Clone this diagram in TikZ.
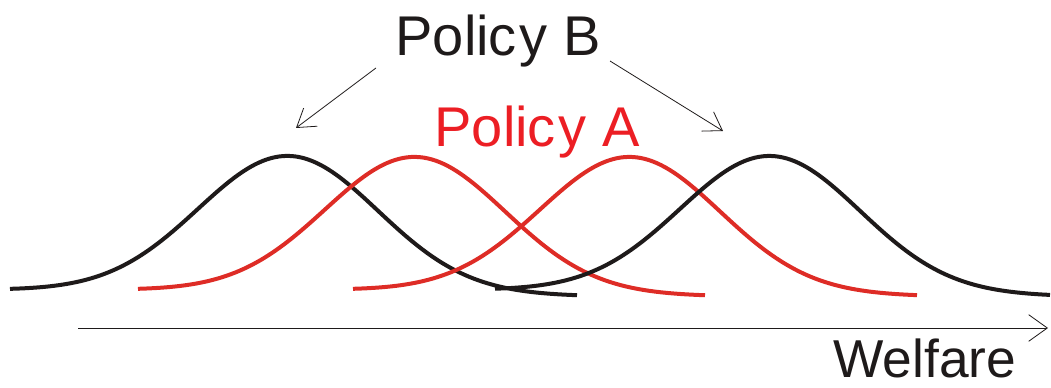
\documentclass[tikz,border=0pt]{standalone}
\usepackage{fontspec}
\setmainfont{Liberation Sans}
\usetikzlibrary{arrows.meta}
\definecolor{ink}{RGB}{30,26,26}
\definecolor{redtext}{RGB}{236,30,36}
\definecolor{redcurve}{RGB}{222,44,38}
\tikzset{
  curve/.style={line width=3pt, line join=round},
  pointer/.style={line width=0.6pt, ink, -{Straight Barb[length=13pt,width=17pt,line width=0.6pt]}},
  axisline/.style={line width=0.6pt, ink, -{Straight Barb[length=14pt,width=20pt,line width=0.6pt]}},
  label/.style={anchor=base, inner sep=0pt, font=\fontsize{42}{42}\selectfont},
}
\begin{document}
\begin{tikzpicture}[x=0.75pt,y=-0.75pt]
\useasboundingbox (0,0) rectangle (1051,388);
% curves
\draw[curve, ink] plot[domain=10:577, samples=140]
  (\x, {290+6*(\x-10)/567 - 137*exp(-0.5*((\x-288)/90)^2)});
\draw[curve, redcurve] plot[domain=138:705, samples=140]
  (\x, {290+6*(\x-138)/567 - 136*exp(-0.5*((\x-415)/90)^2)});
\draw[curve, redcurve] plot[domain=353:917, samples=140]
  (\x, {290+6*(\x-353)/564 - 136*exp(-0.5*((\x-630)/90)^2)});
\draw[curve, ink] plot[domain=495:1050, samples=140]
  (\x, {290+6*(\x-495)/555 - 137*exp(-0.5*((\x-770)/90)^2)});
% axis
\coordinate (axL) at (78,328);
\coordinate (axR) at (1048,328);
\draw[axisline] (axL) -- (axR);
\node[label, ink, text depth=0pt, font=\fontsize{40}{40}\selectfont] (welfare) at (925,378) {Welfare};
% labels
\node[label, ink] (polB) at (498,56) {Polic\kern2pt y B};
\node[label, redtext] (polA) at (537,147) {Polic\kern2pt y A};
\coordinate (bLs) at (376,68);
\coordinate (bLe) at (296,128);
\coordinate (bRs) at (610,61);
\coordinate (bRe) at (723,131);
\draw[pointer] (bLs) -- (bLe);
\draw[pointer] (bRs) -- (bRe);
\end{tikzpicture}
\end{document}
